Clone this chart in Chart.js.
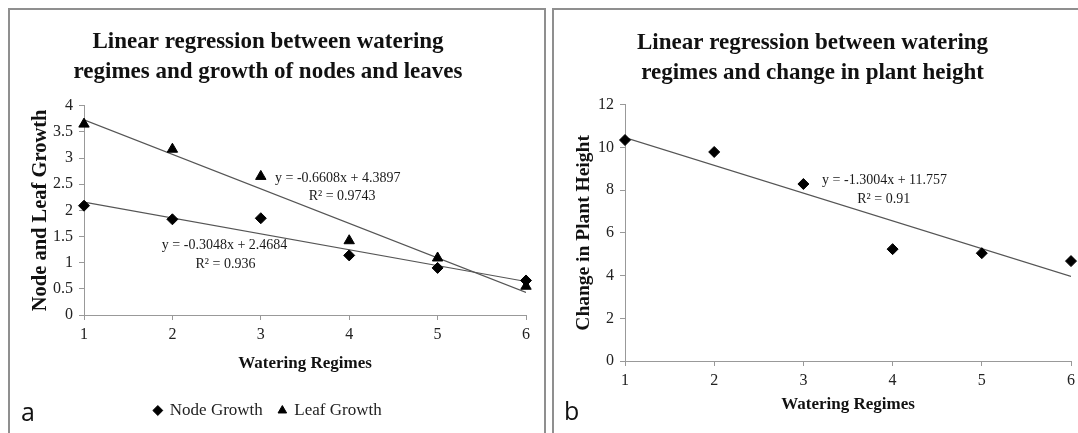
<!DOCTYPE html>
<html>
<head>
<meta charset="utf-8">
<script src="https://cdn.jsdelivr.net/npm/chart.js@4.4.1/dist/chart.umd.min.js"></script>
<style>
  html, body { margin: 0; padding: 0; background: #fff; overflow: hidden; }
  body { width: 1078px; height: 433px; position: relative; }
  .panel { position: absolute; top: 8px; border: 2px solid #8f8f8f; border-bottom: none; height: 440px; overflow: hidden; }
  #panelA { left: 8px; width: 534px; }
  #panelB { left: 552px; width: 560px; }
  canvas { position: absolute; left: 0; top: 0; }
  .tag { position: absolute; font-family: "Open Sans", sans-serif; font-size: 25px; line-height: 25px; color: #111; }
</style>
</head>
<body>
<div class="panel" id="panelA"><canvas id="chartA" width="534" height="423"></canvas></div>
<div class="panel" id="panelB"><canvas id="chartB" width="560" height="423"></canvas></div>
<div class="tag" style="left:21px; top:399px;">a</div>
<div class="tag" style="left:564px; top:398px;">b</div>
<script>
// dados
const regimes = [1, 2, 3, 4, 5, 6];
const nodeGrowth = [2.09, 1.83, 1.85, 1.14, 0.90, 0.66];
const leafGrowth = [3.65, 3.17, 2.65, 1.42, 1.09, 0.55];
const heightChange = [10.35, 9.79, 8.29, 5.24, 5.05, 4.68];

// linhas de tendência (pontas em x = 1 e x = 6)
const trendX = [1, 6];
const nodeTrend = [2.16, 0.64];
const leafTrend = [3.73, 0.43];
const heightTrend = [10.46, 3.96];

const serif = "'Liberation Serif', 'Times New Roman', serif";

function pts(xs, ys) {
    return xs.map((x, i) => ({ x: x, y: ys[i] }));
}

// plugin simples para escrever as equações no gráfico
const equationText = {
    id: 'equationText',
    afterDatasetsDraw(chart, args, opts) {
        const ctx = chart.ctx;
        const xs = chart.scales.x, ys = chart.scales.y;
        ctx.save();
        ctx.font = '14px ' + serif;
        ctx.fillStyle = '#1a1a1a';
        ctx.textAlign = 'center';
        ctx.textBaseline = 'middle';
        (opts.items || []).forEach(it => {
            ctx.fillText(it.text, xs.getPixelForValue(it.x), ys.getPixelForValue(it.y));
        });
        ctx.restore();
    }
};

function axes(yMax, yStep, yTitle, yTitleSize, yWidth, xHeight, xTitlePad) {
    return {
        x: {
            type: 'linear', min: 1, max: 6,
            afterFit: s => { s.height = xHeight; },
            border: { color: '#999', width: 1 },
            grid: { drawOnChartArea: false, tickLength: 5, color: '#999' },
            ticks: { stepSize: 1, color: '#222', padding: 5, font: { family: serif, size: 16 } },
            title: { display: true, text: 'Watering Regimes', color: '#111', padding: { top: 0, bottom: xTitlePad }, font: { family: serif, size: 17, weight: 'bold' } }
        },
        y: {
            min: 0, max: yMax,
            afterFit: s => { s.width = yWidth; },
            border: { color: '#999', width: 1 },
            grid: { drawOnChartArea: false, tickLength: 5, color: '#999' },
            ticks: { stepSize: yStep, color: '#222', padding: 6, font: { family: serif, size: 16 }, callback: v => String(v) },
            title: { display: true, text: yTitle, color: '#111', padding: { top: 18, bottom: 0 }, font: { family: serif, size: yTitleSize, weight: 'bold' } }
        }
    };
}

const titleFont = { family: serif, size: 23, weight: 'bold', lineHeight: 1.3 };

// ==================================================================
// a - nós e folhas
// ==================================================================
new Chart(document.getElementById('chartA'), {
    type: 'scatter',
    data: {
        datasets: [
            { label: 'Node Growth', data: pts(regimes, nodeGrowth), pointStyle: 'rectRot', pointRadius: 5.5, backgroundColor: '#000', borderColor: '#000', clip: false },
            { label: 'Leaf Growth', data: pts(regimes, leafGrowth), pointStyle: 'triangle', pointRadius: 6, backgroundColor: '#000', borderColor: '#000', clip: false },
            { label: 'trend', data: pts(trendX, nodeTrend), showLine: true, pointRadius: 0, borderColor: '#555', borderWidth: 1.2 },
            { label: 'trend', data: pts(trendX, leafTrend), showLine: true, pointRadius: 0, borderColor: '#555', borderWidth: 1.2 }
        ]
    },
    options: {
        responsive: false, animation: false,
        layout: { padding: { left: 0, right: 18, top: 0, bottom: 4 } },
        scales: axes(4, 0.5, 'Node and Leaf Growth', 20.5, 74, 71, 12),
        plugins: {
            title: { display: true, text: ['Linear regression between watering', 'regimes and growth of nodes and leaves'], color: '#111', font: titleFont, padding: { top: 17, bottom: 19 } },
            legend: {
                position: 'bottom',
                labels: {
                    usePointStyle: true, boxWidth: 7, boxHeight: 7, padding: 16, color: '#222',
                    font: { family: serif, size: 17 },
                    filter: item => item.text !== 'trend'
                }
            },
            tooltip: { enabled: false },
            equationText: {
                items: [
                    { text: 'y = -0.6608x + 4.3897', x: 3.87, y: 2.62 },
                    { text: 'R² = 0.9743', x: 3.92, y: 2.26 },
                    { text: 'y = -0.3048x + 2.4684', x: 2.59, y: 1.34 },
                    { text: 'R² = 0.936', x: 2.6, y: 0.96 }
                ]
            }
        }
    },
    plugins: [equationText]
});

// ==================================================================
// b - altura da planta
// ==================================================================
new Chart(document.getElementById('chartB'), {
    type: 'scatter',
    data: {
        datasets: [
            { label: 'Height', data: pts(regimes, heightChange), pointStyle: 'rectRot', pointRadius: 5.5, backgroundColor: '#000', borderColor: '#000', clip: false },
            { label: 'trend', data: pts(trendX, heightTrend), showLine: true, pointRadius: 0, borderColor: '#555', borderWidth: 1.2 }
        ]
    },
    options: {
        responsive: false, animation: false,
        layout: { padding: { left: 0, right: 43, top: 0, bottom: 0 } },
        scales: axes(12, 2, 'Change in Plant Height', 19.5, 71, 72, 18),
        plugins: {
            title: { display: true, text: ['Linear regression between watering', 'regimes and change in plant height'], color: '#111', font: titleFont, padding: { top: 18, bottom: 17 } },
            legend: { display: false },
            tooltip: { enabled: false },
            equationText: {
                items: [
                    { text: 'y = -1.3004x + 11.757', x: 3.91, y: 8.47 },
                    { text: 'R² = 0.91', x: 3.9, y: 7.58 }
                ]
            }
        }
    },
    plugins: [equationText]
});
</script>
</body>
</html>
